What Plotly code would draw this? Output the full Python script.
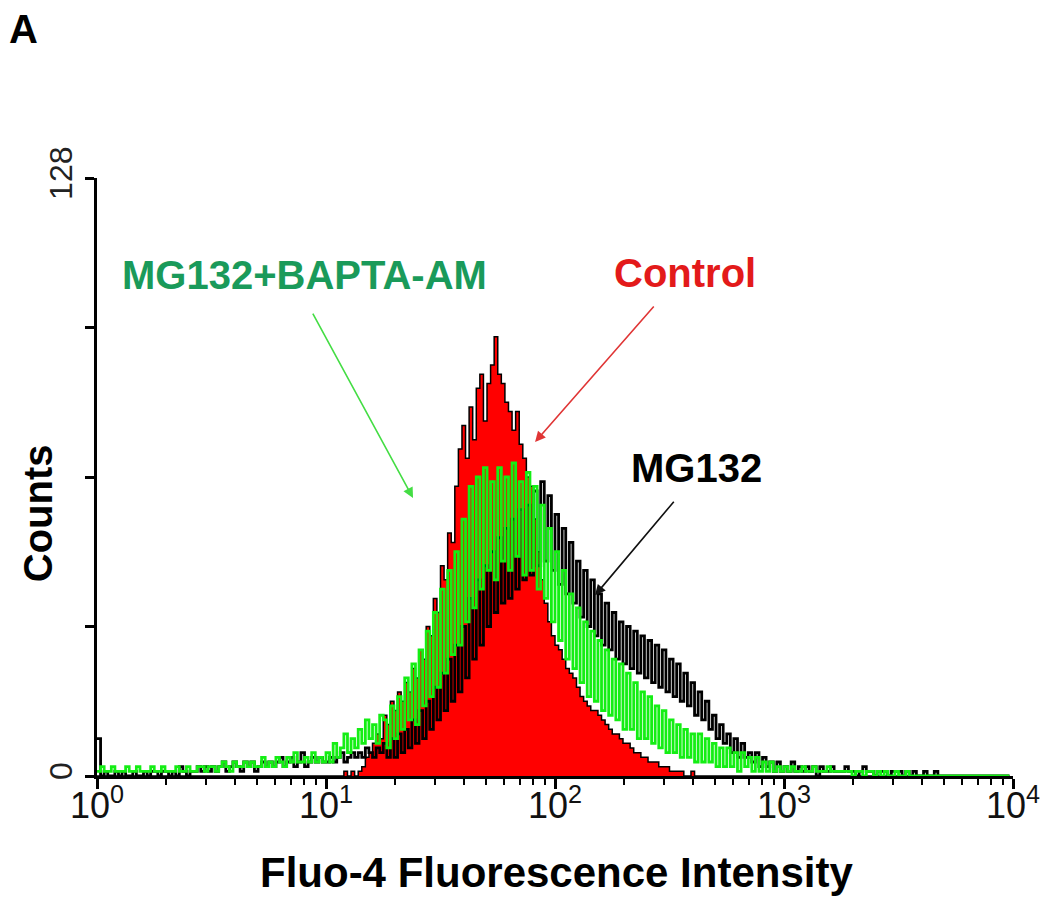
import plotly.graph_objects as go

# ---- data: 256 log channels spanning 10^0 .. 10^4 (64 channels per decade) ----
channels = list(range(256))
decade_ticks = [1, 10, 100, 1000, 10000]
decade_labels = ["10<sup>0</sup>", "10<sup>1</sup>", "10<sup>2</sup>", "10<sup>3</sup>", "10<sup>4</sup>"]
y_ticks = [0, 32, 64, 96, 128]
y_labels = ["0", "", "", "", "128"]

control = [
    0, 0, 0, 0, 0, 0, 0, 0, 0, 0, 0, 0, 0, 0, 0, 0,
    0, 0, 0, 0, 0, 0, 0, 0, 0, 0, 0, 0, 0, 0, 0, 0,
    0, 0, 0, 0, 0, 0, 0, 0, 0, 0, 0, 0, 0, 0, 0, 0,
    0, 0, 0, 0, 0, 0, 0, 0, 0, 0, 0, 0, 0, 0, 0, 0,
    0, 0, 0, 0, 0, 1, 0, 1, 0, 1, 2, 4, 5, 7, 9, 8,
    13, 11, 16, 14, 18, 16, 20, 18, 23, 21, 27, 25, 32, 30, 38, 35,
    45, 42, 52, 50, 62, 70, 75, 68, 79, 72, 83, 86, 76, 84, 88, 94,
    86, 84, 80, 78, 74, 78, 71, 68, 64, 62, 55, 48, 42, 37, 33, 30,
    28, 27, 25, 23, 22, 21, 19, 17, 16, 15, 14, 14, 13, 12, 11, 10,
    9, 9, 8, 7, 7, 6, 5, 5, 4, 4, 3, 3, 3, 2, 2, 2,
    1, 1, 1, 1, 0, 0, 1, 0, 0, 0, 0, 0, 0, 0, 0, 0,
    0, 0, 0, 0, 0, 0, 0, 0, 0, 0, 0, 0, 0, 0, 0, 0,
    0, 0, 0, 0, 0, 0, 0, 0, 0, 0, 0, 0, 0, 0, 0, 0,
    0, 0, 0, 0, 0, 0, 0, 0, 0, 0, 0, 0, 0, 0, 0, 0,
    0, 0, 0, 0, 0, 0, 0, 0, 0, 0, 0, 0, 0, 0, 0, 0,
    0, 0, 0, 0, 0, 0, 0, 0, 0, 0, 0, 0, 0, 0, 0, 0,
]

mg132_bapta = [
    1, 2, 1, 1, 2, 1, 1, 1, 2, 1, 1, 2, 1, 1, 1, 2,
    1, 1, 2, 1, 1, 1, 2, 1, 1, 2, 1, 1, 2, 2, 1, 2,
    2, 1, 2, 3, 2, 1, 3, 2, 2, 3, 2, 3, 2, 2, 4, 2,
    3, 2, 4, 3, 2, 4, 3, 5, 3, 3, 4, 3, 5, 3, 4, 3,
    5, 3, 7, 4, 6, 9, 5, 8, 6, 10, 7, 12, 8, 11, 7, 13,
    12, 6, 15, 8, 17, 10, 21, 12, 24, 11, 27, 15, 31, 17, 35, 19,
    40, 22, 44, 26, 48, 28, 55, 33, 62, 36, 64, 40, 66, 44, 63, 42,
    66, 46, 64, 44, 67, 47, 63, 43, 65, 44, 62, 40, 58, 38, 53, 33,
    48, 29, 44, 25, 39, 23, 36, 20, 33, 17, 31, 16, 29, 14, 27, 13,
    25, 12, 24, 10, 22, 10, 20, 8, 18, 8, 17, 7, 15, 6, 14, 5,
    12, 5, 11, 4, 10, 4, 9, 3, 9, 3, 8, 3, 7, 2, 6, 2,
    6, 2, 5, 1, 5, 2, 4, 1, 4, 1, 3, 1, 3, 1, 2, 1,
    2, 1, 2, 1, 1, 2, 1, 1, 2, 1, 1, 1, 2, 1, 1, 1,
    1, 1, 1, 0, 1, 1, 0, 1, 1, 0, 1, 0, 1, 0, 0, 1,
    0, 0, 1, 0, 0, 0, 0, 0, 0, 0, 0, 0, 0, 0, 0, 0,
    0, 0, 0, 0, 0, 0, 0, 0, 0, 0, 0, 0, 0, 0, 0, 0,
]

mg132 = [
    8, 0, 1, 0, 0, 1, 0, 1, 0, 0, 1, 0, 0, 1, 0, 1,
    1, 0, 1, 1, 0, 1, 0, 2, 1, 0, 1, 1, 2, 1, 2, 1,
    2, 1, 2, 3, 1, 2, 3, 2, 1, 3, 2, 3, 1, 2, 3, 2,
    3, 2, 3, 4, 2, 3, 4, 2, 3, 5, 2, 3, 4, 3, 4, 3,
    3, 4, 3, 4, 5, 3, 4, 5, 4, 5, 4, 6, 5, 4, 6, 5,
    7, 4, 8, 4, 9, 5, 10, 6, 12, 7, 14, 8, 16, 10, 19, 12,
    22, 14, 25, 16, 28, 18, 32, 21, 38, 25, 42, 28, 45, 32, 48, 35,
    51, 37, 53, 38, 55, 40, 57, 42, 58, 43, 61, 45, 63, 46, 60, 44,
    56, 41, 53, 39, 50, 37, 46, 34, 44, 32, 42, 30, 39, 28, 37, 27,
    35, 25, 33, 24, 32, 23, 31, 22, 30, 21, 29, 20, 28, 19, 27, 18,
    25, 17, 24, 16, 22, 15, 20, 13, 18, 12, 16, 10, 13, 8, 11, 7,
    9, 5, 8, 4, 7, 4, 5, 3, 5, 2, 4, 2, 3, 1, 3, 1,
    2, 1, 3, 1, 2, 1, 2, 1, 2, 0, 2, 1, 1, 2, 1, 1,
    1, 2, 1, 1, 0, 1, 2, 1, 1, 0, 1, 1, 1, 0, 1, 1,
    1, 0, 1, 0, 1, 0, 0, 1, 0, 0, 1, 0, 0, 0, 0, 0,
    0, 0, 0, 0, 0, 0, 0, 0, 0, 0, 0, 0, 0, 0, 0, 0,
]

# channel -> fluorescence intensity (log amplifier, 64 channels per decade)
intensity = [10 ** (c / 64) for c in channels]

FONT = "Liberation Sans, Arial, sans-serif"

fig = go.Figure()
fig.add_trace(go.Scatter(
    x=intensity, y=control, mode="lines", line_shape="hv",
    line=dict(color="black", width=1.5), fill="tozeroy", fillcolor="#ff0000",
    name="Control", showlegend=False, hoverinfo="skip"))
fig.add_trace(go.Scatter(
    x=intensity, y=mg132, mode="lines", line_shape="hv",
    line=dict(color="black", width=2.8), name="MG132", showlegend=False, hoverinfo="skip"))
fig.add_trace(go.Scatter(
    x=intensity, y=mg132_bapta, mode="lines", line_shape="hv",
    line=dict(color="#14ee14", width=2.8), name="MG132+BAPTA-AM", showlegend=False, hoverinfo="skip"))

minor_vals = [k * d for d in decade_ticks[:-1] for k in range(2, 10)]

fig.update_xaxes(
    type="log", range=[0, 4], showgrid=False, zeroline=False,
    showline=True, linecolor="black", linewidth=3,
    ticks="outside", ticklen=10, tickwidth=2.5, tickcolor="black",
    tickmode="array", tickvals=decade_ticks, ticktext=decade_labels,
    ticklabelstandoff=-14,
    tickfont=dict(family=FONT, size=36, color="#111111"),
    minor=dict(ticks="outside", ticklen=6, tickwidth=2, tickcolor="black",
               tickmode="array", tickvals=minor_vals, showgrid=False),
)
fig.update_yaxes(
    range=[0, 128], showgrid=False, zeroline=False,
    showline=True, linecolor="black", linewidth=3,
    ticks="outside", ticklen=9, tickwidth=2.5, tickcolor="black",
    tickmode="array", tickvals=y_ticks, ticktext=y_labels, tickangle=-90,
    tickfont=dict(family=FONT, size=32, color="#222222"),
)

def label(text, x, y, size, color, angle=0):
    return dict(text=text, x=x, y=y, xref="paper", yref="paper",
                xanchor="center", yanchor="middle", textangle=angle,
                showarrow=False, font=dict(family=FONT, size=size, color=color))

annotations = [
    label("<b>A</b>", -0.08, 1.25, 40, "black"),
    label("<b>Counts</b>", -0.064, 0.44, 40, "black", -90),
    label("<b>Fluo-4 Fluorescence Intensity</b>", 0.502, -0.162, 42, "black"),
    label("<b>MG132+BAPTA-AM</b>", 0.227, 0.838, 40, "#1a9a5a"),
    label("<b>Control</b>", 0.642, 0.841, 40, "#e31a1a"),
    label("<b>MG132</b>", 0.655, 0.515, 40, "black"),
    # arrows (heads placed in data coordinates: log10 intensity, counts)
    dict(text="", x=1.38, y=59.5, xref="x", yref="y", ax=-101, ay=-186,
         showarrow=True, arrowhead=2, arrowsize=1.3, arrowwidth=1.6, arrowcolor="#44dd44"),
    dict(text="", x=1.913, y=71.5, xref="x", yref="y", ax=120, ay=-137,
         showarrow=True, arrowhead=2, arrowsize=1.3, arrowwidth=1.6, arrowcolor="#e03535"),
    dict(text="", x=2.175, y=38.7, xref="x", yref="y", ax=80, ay=-95,
         showarrow=True, arrowhead=2, arrowsize=1.3, arrowwidth=1.6, arrowcolor="#111111"),
]

fig.update_layout(
    width=1050, height=907,
    margin=dict(l=89, r=45, t=170, b=139),
    paper_bgcolor="white", plot_bgcolor="white",
    annotations=annotations,
    font=dict(family=FONT),
)

fig.write_html("out.html")
